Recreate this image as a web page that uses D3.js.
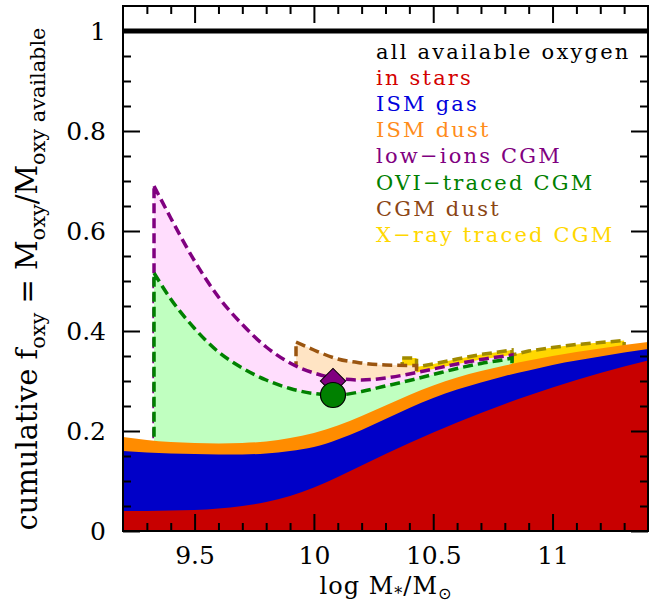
<!DOCTYPE html>
<html><head><meta charset="utf-8">
<script src="https://cdn.jsdelivr.net/npm/d3@7"></script>
<style>body{margin:0;background:#fff}svg{display:block}text{white-space:pre}</style>
</head><body>
<svg id="c" width="656" height="607"></svg>
<script>
// ---------------- data ----------------
const xGrid    = [9.2,9.3,9.4,9.5,9.6,9.7,9.8,9.9,10.0,10.1,10.2,10.3,10.4,10.5,10.6,10.7,10.8,10.9,11.0,11.1,11.2,11.3,11.4];
const starsTop = [0.040,0.040,0.041,0.042,0.045,0.050,0.058,0.070,0.087,0.108,0.131,0.154,0.176,0.197,0.217,0.236,0.254,0.271,0.287,0.302,0.316,0.329,0.341];
const gasTop   = [0.160,0.157,0.155,0.154,0.153,0.153,0.155,0.160,0.168,0.183,0.202,0.224,0.246,0.266,0.283,0.297,0.310,0.321,0.332,0.341,0.349,0.357,0.364];
const dustTop  = [0.188,0.182,0.178,0.176,0.175,0.176,0.179,0.186,0.196,0.211,0.230,0.251,0.272,0.291,0.307,0.320,0.331,0.341,0.350,0.358,0.365,0.372,0.378];

const cgmX     = [9.33,9.4,9.5,9.6,9.7,9.8,9.9,10.0,10.1,10.2,10.3,10.4,10.5,10.6,10.7,10.8,10.83];
const oviTop   = [0.516,0.464,0.405,0.358,0.326,0.302,0.285,0.275,0.272,0.279,0.290,0.301,0.313,0.325,0.335,0.343,0.346];
const lowTop   = [0.690,0.626,0.540,0.468,0.413,0.368,0.336,0.316,0.305,0.302,0.306,0.314,0.324,0.334,0.343,0.350,0.352];

const cgmDustX   = [9.925,10.0,10.1,10.2,10.3,10.43];
const cgmDustTop = [0.378,0.362,0.344,0.336,0.332,0.331];

const xrayX   = [10.37,10.43,10.43,10.5,10.6,10.7,10.83,10.83,10.9,11.0,11.1,11.2,11.3];
const xrayTop = [0.346,0.346,0.328,0.334,0.344,0.353,0.362,0.352,0.360,0.367,0.373,0.377,0.381];

const allOxygen = 1.0;
const obsX = [10.08];
const obsLowIons = [0.300];
const obsOVI = [0.272];

const xMajor = [9.5,10,10.5,11];
const xMajorLabels = ["9.5","10","10.5","11"];
const yMajor = [0,0.2,0.4,0.6,0.8,1];
const yMajorLabels = ["0","0.2","0.4","0.6","0.8","1"];

const legendLabels = ["all available oxygen","in stars","ISM gas","ISM dust","low\u2212ions CGM","OVI\u2212traced CGM","CGM dust","X\u2212ray traced CGM"];
const legendColors = ["#000000","#d40000","#0000dc","#ff8c1a","#800080","#008000","#8b4513","#ffd700"];

// ---------------- chart ----------------
const svg = d3.select("#c");
const L=123,R=648,T=6,B=531;
const x = d3.scaleLinear([9.2,11.4],[L,R]);
const y = d3.scaleLinear([0,1.05],[B,T]);
const FONT = "DejaVu Serif";

svg.append("defs").append("clipPath").attr("id","pc")
  .append("rect").attr("x",L).attr("y",T).attr("width",R-L).attr("height",B-T);
const g = svg.append("g").attr("clip-path","url(#pc)");

function layer(xs, ys, fill, stroke, curve){
  const pts = xs.map((d,i)=>[d,ys[i]]);
  const area = d3.area().x(d=>x(d[0])).y0(y(0)).y1(d=>y(d[1])).curve(curve);
  g.append("path").attr("d",area(pts)).attr("fill",fill).attr("stroke","none");
  if(stroke){
    g.append("path").attr("d",area(pts)).attr("fill","none")
      .attr("stroke",stroke).attr("stroke-width",3.5).attr("stroke-dasharray","10,5");
  }
}
// draw from highest cumulative layer to the lowest (each fills down to zero)
layer(xrayX, xrayTop, "#ffd700", "#a08a00", d3.curveLinear);
layer(cgmDustX, cgmDustTop, "#ffe4c4", "#9a5510", d3.curveMonotoneX);
layer(cgmX, lowTop, "#ffddfd", "#800080", d3.curveMonotoneX);
layer(cgmX, oviTop, "#c0ffc0", "#008000", d3.curveMonotoneX);
layer(xGrid, dustTop, "#ff8c00", null, d3.curveNatural);
layer(xGrid, gasTop, "#0000c8", null, d3.curveNatural);
layer(xGrid, starsTop, "#c80000", null, d3.curveNatural);

// all available oxygen
g.append("line").attr("x1",L).attr("x2",R).attr("y1",y(allOxygen)).attr("y2",y(allOxygen))
  .attr("stroke","#000").attr("stroke-width",5);

// observational points
svg.append("g").selectAll("path").data(obsX).join("path")
  .attr("d", d3.symbol(d3.symbolSquare, 320)())
  .attr("transform",(d,i)=>`translate(${x(d)},${y(obsLowIons[i])}) rotate(45)`)
  .attr("fill","#800080").attr("stroke","#000").attr("stroke-width",1);
svg.append("g").selectAll("path").data(obsX).join("path")
  .attr("d", d3.symbol(d3.symbolCircle, Math.PI*12.5*12.5)())
  .attr("transform",(d,i)=>`translate(${x(d)},${y(obsOVI[i])})`)
  .attr("fill","#008000").attr("stroke","#000").attr("stroke-width",1.2);

// axes
const xMinor = d3.range(93,114).map(d=>d/10).filter(d=>Math.abs(d*2-Math.round(d*2))>1e-6);
const yMinor = d3.range(1,21).map(d=>d/20).filter(d=>Math.abs(d*5-Math.round(d*5))>1e-6);
function styleAxis(sel){
  sel.select(".domain").remove();
  sel.selectAll("line").attr("stroke","#000").attr("stroke-width",2);
  sel.attr("font-family",FONT).attr("font-size",25);
  sel.selectAll("text").attr("fill","#000");
}
svg.append("g").attr("transform",`translate(0,${B})`)
  .call(d3.axisBottom(x).tickValues(xMajor).tickSize(-17).tickPadding(15).tickFormat((d,i)=>xMajorLabels[i])).call(styleAxis);
svg.append("g").attr("transform",`translate(0,${B})`)
  .call(d3.axisBottom(x).tickValues(xMinor).tickSize(-8).tickFormat("")).call(styleAxis);
svg.append("g").attr("transform",`translate(0,${T})`)
  .call(d3.axisTop(x).tickValues(xMajor).tickSize(-17).tickFormat("")).call(styleAxis);
svg.append("g").attr("transform",`translate(0,${T})`)
  .call(d3.axisTop(x).tickValues(xMinor).tickSize(-8).tickFormat("")).call(styleAxis);
svg.append("g").attr("transform",`translate(${L},0)`)
  .call(d3.axisLeft(y).tickValues(yMajor).tickSize(-17).tickPadding(17).tickFormat((d,i)=>yMajorLabels[i])).call(styleAxis);
svg.append("g").attr("transform",`translate(${L},0)`)
  .call(d3.axisLeft(y).tickValues(yMinor).tickSize(-8).tickFormat("")).call(styleAxis);
svg.append("g").attr("transform",`translate(${R},0)`)
  .call(d3.axisRight(y).tickValues(yMajor).tickSize(-17).tickFormat("")).call(styleAxis);
svg.append("g").attr("transform",`translate(${R},0)`)
  .call(d3.axisRight(y).tickValues(yMinor).tickSize(-8).tickFormat("")).call(styleAxis);

svg.append("rect").attr("x",L).attr("y",T).attr("width",R-L).attr("height",B-T)
  .attr("fill","none").attr("stroke","#000").attr("stroke-width",2);

// legend
svg.append("g").selectAll("text").data(legendLabels).join("text")
  .attr("x",376).attr("y",(d,i)=>59+i*26.1)
  .attr("font-family",FONT).attr("font-size",21).attr("letter-spacing",2.2)
  .attr("fill",(d,i)=>legendColors[i]).text(d=>d);

// y label
function yLabel(fs){
  const sub = fs*0.72, off = fs*0.27;
  const t = svg.append("text").attr("transform","translate(37,279) rotate(-90)")
    .attr("text-anchor","middle").attr("font-family",FONT).attr("font-size",fs).attr("fill","#000");
  t.append("tspan").text("cumulative f");
  t.append("tspan").attr("font-size",sub).attr("dy",off).text("oxy");
  t.append("tspan").attr("dy",-off).text(" = M");
  t.append("tspan").attr("font-size",sub).attr("dy",off).text("oxy");
  t.append("tspan").attr("dy",-off).text("/M");
  t.append("tspan").attr("font-size",sub).attr("dy",off).text("oxy available");
  return t;
}
let yl = yLabel(30);
const len = yl.node().getComputedTextLength();
yl.remove();
yLabel(30*503/len);

// x label
const xl = svg.append("text").attr("x",386).attr("y",594).attr("text-anchor","middle")
  .attr("font-family",FONT).attr("font-size",24).attr("letter-spacing",1).attr("fill","#000");
xl.append("tspan").text("log M");
xl.append("tspan").attr("font-size",16).attr("dy",5).text("*");
xl.append("tspan").attr("dy",-5).text("/M");
xl.append("tspan").attr("font-size",16).attr("dy",5).attr("font-family","DejaVu Sans").text("\u2299");
</script>
</body></html>
